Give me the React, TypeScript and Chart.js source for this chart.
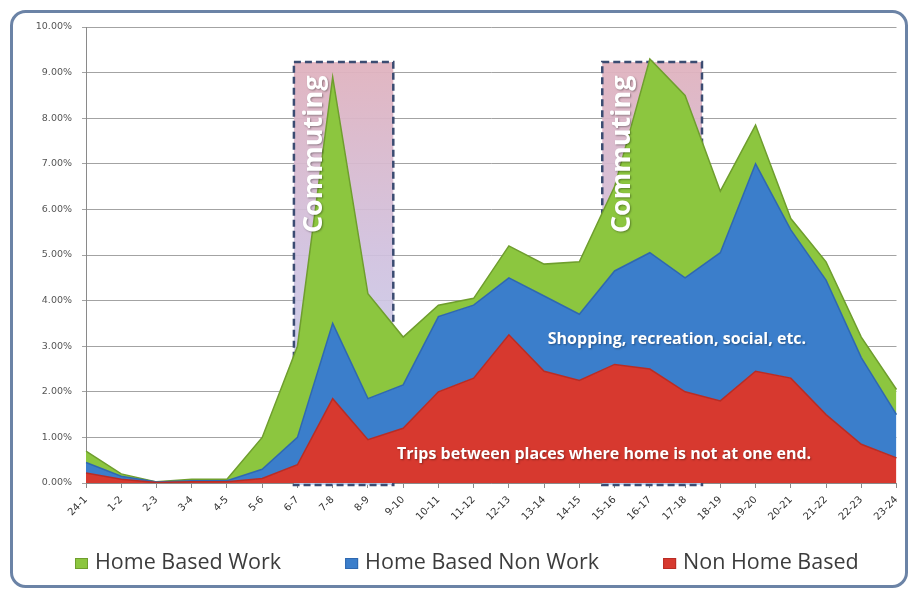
import React, { useEffect, useRef } from "react";
import { Chart, registerables } from "chart.js";

Chart.register(...registerables);

// ---- data (percent of daily trips) ----
const categories = [
  "24-1", "1-2", "2-3", "3-4", "4-5", "5-6", "6-7", "7-8", "8-9", "9-10", "10-11", "11-12",
  "12-13", "13-14", "14-15", "15-16", "16-17", "17-18", "18-19", "19-20", "20-21", "21-22", "22-23", "23-24",
];
const nonHomeBased = [
  0.22, 0.08, 0.01, 0.03, 0.03, 0.1, 0.4, 1.85, 0.95, 1.2, 2.0, 2.3,
  3.25, 2.45, 2.25, 2.6, 2.5, 2.0, 1.8, 2.45, 2.3, 1.5, 0.85, 0.55,
];
const homeBasedNonWork = [
  0.23, 0.07, 0.01, 0.02, 0.02, 0.2, 0.6, 1.65, 0.9, 0.95, 1.65, 1.6,
  1.25, 1.65, 1.45, 2.05, 2.55, 2.5, 3.25, 4.55, 3.25, 2.95, 1.9, 0.95,
];
const homeBasedWork = [
  0.25, 0.05, 0.005, 0.03, 0.03, 0.7, 2.0, 5.4, 2.3, 1.05, 0.25, 0.15,
  0.7, 0.7, 1.15, 1.85, 4.25, 4.0, 1.35, 0.85, 0.25, 0.4, 0.45, 0.55,
];
const seriesNames = ["Non Home Based", "Home Based Non Work", "Home Based Work"];
const yMin = 0;
const yMax = 10;
const yStep = 1;

// annotation content (in category-index / value units)
const commutingWindows = [
  { from: 5.9, to: 8.72 },
  { from: 14.65, to: 17.48 },
];
const commutingTop = 9.23;
const commutingLabel = "Commuting";
const commutingLabelBase = 5.48;
const areaNotes = [
  { text: "Shopping, recreation, social, etc.", x: 16.77, y: 3.14 },
  { text: "Trips between places where home is not at one end.", x: 14.7, y: 0.62 },
];

const fills = ["#d7392f", "#3b7ecb", "#8cc63f"];
const borders = ["#b92c24", "#2f68b0", "#6f9e2e"];

const decorPlugin = {
  id: "decor",
  beforeDraw(chart: any) {
    const { ctx, width, height } = chart;
    ctx.save();
    ctx.fillStyle = "#ffffff";
    ctx.fillRect(0, 0, width, height);
    ctx.restore();
  },
  beforeDatasetsDraw(chart: any) {
    const { ctx, chartArea } = chart;
    const xs = chart.scales.x;
    const ys = chart.scales.y;
    ctx.save();
    for (const w of commutingWindows) {
      const l = xs.getPixelForValue(w.from);
      const r = xs.getPixelForValue(w.to);
      const t = ys.getPixelForValue(commutingTop);
      const b = chartArea.bottom + 2;
      const g = ctx.createLinearGradient(0, t, 0, b);
      g.addColorStop(0, "rgba(224,178,190,0.95)");
      g.addColorStop(0.45, "rgba(208,192,222,0.92)");
      g.addColorStop(1, "rgba(196,216,246,0.92)");
      ctx.fillStyle = g;
      ctx.fillRect(l, t, r - l, b - t);
      ctx.setLineDash([7, 4]);
      ctx.lineWidth = 2.5;
      ctx.strokeStyle = "#3b4c72";
      ctx.strokeRect(l, t, r - l, b - t);
    }
    ctx.restore();
  },
  afterDatasetsDraw(chart: any) {
    const { ctx } = chart;
    const xs = chart.scales.x;
    const ys = chart.scales.y;
    ctx.save();
    ctx.fillStyle = "#ffffff";
    ctx.shadowColor = "rgba(0,0,0,0.35)";
    ctx.shadowBlur = 2;
    ctx.shadowOffsetX = 1;
    ctx.shadowOffsetY = 1;
    // Commuting labels
    ctx.font = 'bold 27px "Open Sans"';
    ctx.textAlign = "left";
    ctx.textBaseline = "alphabetic";
    for (const w of commutingWindows) {
      const l = xs.getPixelForValue(w.from);
      const by = ys.getPixelForValue(commutingLabelBase);
      ctx.save();
      ctx.translate(l + 28, by);
      ctx.rotate(-Math.PI / 2);
      ctx.fillText(commutingLabel, 0, 0);
      ctx.restore();
    }
    // area notes
    ctx.font = 'bold 16px "Open Sans"';
    ctx.textAlign = "center";
    ctx.textBaseline = "middle";
    for (const n of areaNotes) {
      ctx.fillText(n.text, xs.getPixelForValue(n.x), ys.getPixelForValue(n.y));
    }
    ctx.restore();
  },
  afterDraw(chart: any) {
    const { ctx } = chart;
    ctx.save();
    // frame
    ctx.strokeStyle = "#6b83a6";
    ctx.lineWidth = 3;
    ctx.beginPath();
    ctx.roundRect(11.5, 11.5, 895, 575, 14);
    ctx.stroke();
    // legend (reverse dataset order)
    ctx.font = '21.5px "Open Sans"';
    ctx.textBaseline = "middle";
    ctx.textAlign = "left";
    let x = 75;
    const cy = 563;
    const ds = chart.data.datasets;
    for (let i = ds.length - 1; i >= 0; i--) {
      const d = ds[i];
      ctx.fillStyle = d.backgroundColor;
      ctx.fillRect(x, cy - 5, 13, 11);
      ctx.strokeStyle = d.borderColor;
      ctx.lineWidth = 1;
      ctx.strokeRect(x + 0.5, cy - 4.5, 12, 10);
      ctx.fillStyle = "#3c3c3c";
      ctx.fillText(d.label, x + 20, cy);
      x += 20 + ctx.measureText(d.label).width + 64;
    }
    ctx.restore();
  },
};

export default function App() {
  const ref = useRef<HTMLCanvasElement | null>(null);

  useEffect(() => {
    if (!ref.current) return;
    const series = [nonHomeBased, homeBasedNonWork, homeBasedWork];
    const chart = new Chart(ref.current, {
      type: "line",
      data: {
        labels: categories,
        datasets: series.map((s, i) => ({
          label: seriesNames[i],
          data: s,
          fill: i === 0 ? "origin" : "-1",
          backgroundColor: fills[i],
          borderColor: borders[i],
          borderWidth: 1.5,
          pointRadius: 0,
          tension: 0,
        })),
      },
      options: {
        animation: false,
        responsive: false,
        layout: { padding: { top: 27, right: 13, bottom: 47, left: 0 } },
        plugins: {
          legend: { display: false },
          tooltip: { enabled: false },
        },
        scales: {
          x: {
            offset: false,
            grid: { display: true, drawOnChartArea: false, drawTicks: true, tickLength: 5, color: "#8a8a8a" },
            border: { display: true, color: "#8a8a8a" },
            ticks: {
              autoSkip: false,
              minRotation: 45,
              maxRotation: 45,
              padding: 6,
              color: "#333333",
              font: { family: "DejaVu Sans", size: 10 },
            },
            afterFit: (s: any) => {
              s.height = 60;
            },
          },
          y: {
            stacked: true,
            min: yMin,
            max: yMax,
            ticks: {
              stepSize: yStep,
              padding: 10,
              color: "#555555",
              font: { family: "DejaVu Sans", size: 9.5 },
              callback: (v: any) => Number(v).toFixed(2) + "%",
            },
            grid: { color: "#a3a3a3", tickLength: 4 },
            border: { display: true, color: "#8a8a8a" },
            afterFit: (s: any) => {
              s.width = 86;
            },
          },
        },
      },
      plugins: [decorPlugin],
    } as any);
    return () => chart.destroy();
  }, []);

  return (
    <div style={{ position: "absolute", left: 0, top: 0, width: 911, height: 590 }}>
      <canvas ref={ref} width={911} height={590} style={{ width: 911, height: 590, display: "block" }} />
    </div>
  );
}
